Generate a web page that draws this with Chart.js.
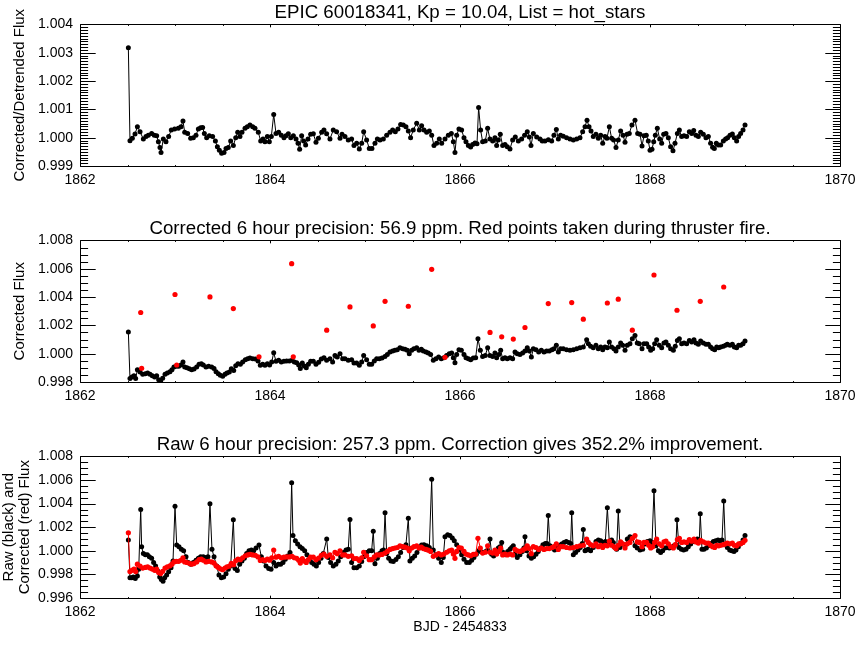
<!DOCTYPE html>
<html>
<head>
<meta charset="utf-8">
<script src="https://cdn.jsdelivr.net/npm/chart.js@4.4.1/dist/chart.umd.min.js"></script>
<style>
  body { margin: 0; background: #fff; }
  #wrap { position: relative; width: 864px; height: 648px; }
  #wrap canvas { position: absolute; left: 0; }
</style>
</head>
<body>
<div id="wrap">
  <canvas id="p1" width="864" height="216" style="top:0"></canvas>
  <canvas id="p2" width="864" height="216" style="top:216px"></canvas>
  <canvas id="p3" width="864" height="216" style="top:432px"></canvas>
</div>
<script>
// --- data: [BJD - 2454833, flux] ---
const detrended = [
  [1862.509,1.00318],[1862.526,0.99989],[1862.551,0.99998],[1862.579,1.00013],[1862.604,1.00039],[1862.632,1.00021],
  [1862.667,0.99995],[1862.695,1.00004],[1862.719,1.00009],[1862.754,1.00015],[1862.782,1.00009],[1862.807,1.00007],
  [1862.825,0.99986],[1862.842,0.99965],[1862.853,0.99948],[1862.877,0.99995],[1862.905,0.99986],[1862.933,1.00004],
  [1862.961,1.00027],[1862.996,1.00031],[1863.035,1.00033],[1863.063,1.00039],[1863.084,1.00059],[1863.102,1.00019],
  [1863.133,1.00015],[1863.165,0.99998],[1863.193,1.00000],[1863.221,1.00009],[1863.246,1.00031],[1863.270,1.00035],
  [1863.291,1.00036],[1863.309,1.00015],[1863.333,1.00000],[1863.361,1.00007],[1863.396,1.00004],[1863.425,0.99988],
  [1863.446,0.99968],[1863.467,0.99956],[1863.491,0.99945],[1863.516,0.99948],[1863.537,0.99962],[1863.561,0.99965],
  [1863.586,0.99988],[1863.614,0.99972],[1863.639,1.00000],[1863.660,1.00019],[1863.684,1.00004],[1863.705,1.00019],
  [1863.737,1.00033],[1863.761,1.00039],[1863.789,1.00045],[1863.818,1.00039],[1863.842,1.00033],[1863.877,1.00019],
  [1863.902,0.99988],[1863.926,0.99995],[1863.947,0.99986],[1863.972,1.00004],[1863.993,0.99986],[1864.014,1.00004],
  [1864.039,1.00082],[1864.063,1.00015],[1864.091,1.00019],[1864.119,1.00009],[1864.147,1.00000],[1864.168,1.00007],
  [1864.193,1.00014],[1864.218,1.00000],[1864.246,1.00007],[1864.274,0.99995],[1864.295,0.99980],[1864.312,0.99959],
  [1864.333,1.00007],[1864.354,0.99988],[1864.375,0.99974],[1864.400,0.99995],[1864.428,1.00012],[1864.456,1.00014],
  [1864.484,0.99984],[1864.509,0.99998],[1864.544,1.00019],[1864.568,1.00027],[1864.596,1.00014],[1864.631,0.99995],
  [1864.666,1.00027],[1864.701,1.00021],[1864.737,0.99998],[1864.758,1.00012],[1864.789,1.00004],[1864.824,0.99992],
  [1864.859,0.99995],[1864.884,0.99972],[1864.912,0.99980],[1864.940,0.99960],[1864.965,0.99980],[1864.986,1.00021],
  [1865.017,0.99992],[1865.045,0.99962],[1865.073,0.99962],[1865.105,0.99980],[1865.130,0.99995],[1865.158,0.99992],
  [1865.193,0.99995],[1865.228,1.00009],[1865.263,1.00019],[1865.291,1.00027],[1865.319,1.00021],[1865.347,1.00031],
  [1865.375,1.00047],[1865.403,1.00045],[1865.431,1.00039],[1865.456,1.00024],[1865.480,1.00000],[1865.508,1.00027],
  [1865.544,1.00051],[1865.572,1.00027],[1865.596,1.00042],[1865.621,1.00027],[1865.649,1.00019],[1865.677,1.00024],
  [1865.702,1.00009],[1865.726,0.99972],[1865.754,0.99980],[1865.782,0.99995],[1865.807,0.99980],[1865.842,0.99995],
  [1865.877,1.00009],[1865.909,1.00015],[1865.930,0.99986],[1865.947,0.99948],[1865.965,1.00009],[1865.989,1.00031],
  [1866.017,1.00027],[1866.042,1.00000],[1866.063,0.99986],[1866.088,0.99972],[1866.112,0.99967],[1866.133,0.99976],
  [1866.158,0.99981],[1866.179,0.99979],[1866.196,1.00107],[1866.217,1.00027],[1866.238,0.99986],[1866.266,0.99988],
  [1866.291,1.00033],[1866.315,0.99995],[1866.344,0.99988],[1866.368,1.00000],[1866.386,0.99972],[1866.403,0.99992],
  [1866.424,1.00012],[1866.449,0.99972],[1866.474,0.99976],[1866.498,0.99968],[1866.526,0.99960],[1866.554,0.99992],
  [1866.582,1.00002],[1866.614,0.99988],[1866.649,0.99995],[1866.680,1.00009],[1866.708,1.00021],[1866.730,1.00002],
  [1866.747,0.99972],[1866.772,1.00015],[1866.807,1.00002],[1866.842,0.99995],[1866.866,0.99988],[1866.894,0.99988],
  [1866.930,0.99993],[1866.965,0.99988],[1866.989,1.00009],[1867.014,1.00029],[1867.035,0.99995],[1867.059,1.00009],
  [1867.087,1.00005],[1867.122,1.00000],[1867.158,0.99995],[1867.193,0.99992],[1867.228,0.99995],[1867.263,1.00000],
  [1867.291,1.00021],[1867.316,1.00039],[1867.337,1.00062],[1867.358,1.00039],[1867.379,1.00024],[1867.403,1.00004],
  [1867.431,1.00012],[1867.456,0.99998],[1867.481,1.00009],[1867.502,0.99980],[1867.526,1.00004],[1867.547,0.99998],
  [1867.572,1.00039],[1867.596,0.99998],[1867.617,0.99992],[1867.642,0.99965],[1867.666,0.99992],[1867.691,1.00024],
  [1867.716,1.00009],[1867.737,0.99984],[1867.758,1.00012],[1867.782,1.00015],[1867.810,1.00045],[1867.842,1.00062],
  [1867.870,1.00015],[1867.895,1.00012],[1867.916,0.99971],[1867.937,1.00007],[1867.961,1.00009],[1867.982,0.99988],
  [1868.000,0.99956],[1868.021,0.99959],[1868.039,0.99986],[1868.056,1.00009],[1868.077,1.00033],[1868.102,0.99995],
  [1868.123,0.99980],[1868.144,1.00012],[1868.168,1.00015],[1868.193,1.00000],[1868.217,0.99968],[1868.242,0.99954],
  [1868.263,0.99980],[1868.288,1.00015],[1868.309,1.00027],[1868.333,1.00004],[1868.358,1.00007],[1868.386,1.00004],
  [1868.414,1.00021],[1868.439,1.00015],[1868.460,1.00025],[1868.484,1.00009],[1868.509,1.00004],[1868.533,1.00019],
  [1868.561,1.00012],[1868.589,1.00000],[1868.614,1.00004],[1868.638,0.99980],[1868.659,0.99966],[1868.677,0.99962],
  [1868.698,0.99980],[1868.719,0.99974],[1868.744,0.99974],[1868.772,0.99988],[1868.796,0.99995],[1868.817,1.00000],
  [1868.842,1.00009],[1868.867,1.00013],[1868.888,1.00000],[1868.912,0.99988],[1868.933,1.00004],[1868.954,1.00015],
  [1868.979,1.00027],[1869.000,1.00045]
];

const corrected = [
  [1862.509,1.00153],[1862.526,0.99824],[1862.547,0.99835],[1862.568,0.99845],[1862.586,0.99824],[1862.604,0.99887],
  [1862.632,0.99871],[1862.660,0.99854],[1862.688,0.99859],[1862.712,0.99864],[1862.737,0.99854],[1862.761,0.99845],
  [1862.786,0.99835],[1862.807,0.99845],[1862.828,0.99816],[1862.849,0.99807],[1862.870,0.99826],[1862.895,0.99854],
  [1862.919,0.99864],[1862.947,0.99873],[1862.968,0.99887],[1862.989,0.99906],[1863.014,0.99911],[1863.039,0.99911],
  [1863.063,0.99920],[1863.084,0.99941],[1863.102,0.99906],[1863.126,0.99901],[1863.151,0.99894],[1863.175,0.99887],
  [1863.200,0.99892],[1863.228,0.99906],[1863.253,0.99925],[1863.277,0.99929],[1863.298,0.99920],[1863.326,0.99906],
  [1863.354,0.99911],[1863.386,0.99906],[1863.411,0.99896],[1863.432,0.99873],[1863.456,0.99859],[1863.477,0.99847],
  [1863.502,0.99840],[1863.526,0.99854],[1863.547,0.99864],[1863.572,0.99871],[1863.593,0.99894],[1863.618,0.99882],
  [1863.639,0.99915],[1863.663,0.99929],[1863.688,0.99925],[1863.712,0.99941],[1863.740,0.99958],[1863.765,0.99965],
  [1863.789,0.99969],[1863.818,0.99965],[1863.846,0.99962],[1863.874,0.99948],[1863.898,0.99918],[1863.923,0.99925],
  [1863.947,0.99918],[1863.972,0.99929],[1863.996,0.99920],[1864.018,0.99941],[1864.039,1.00007],[1864.063,0.99946],
  [1864.091,0.99953],[1864.119,0.99941],[1864.147,0.99946],[1864.175,0.99948],[1864.204,0.99948],[1864.232,0.99953],
  [1864.256,0.99941],[1864.281,0.99936],[1864.302,0.99920],[1864.319,0.99896],[1864.340,0.99934],[1864.361,0.99913],
  [1864.382,0.99901],[1864.404,0.99925],[1864.428,0.99946],[1864.456,0.99946],[1864.484,0.99925],[1864.512,0.99939],
  [1864.540,0.99962],[1864.568,0.99972],[1864.596,0.99953],[1864.631,0.99965],[1864.659,0.99941],[1864.684,0.99988],
  [1864.708,0.99976],[1864.737,1.00000],[1864.765,0.99965],[1864.789,0.99965],[1864.824,0.99953],[1864.859,0.99958],
  [1864.884,0.99934],[1864.912,0.99934],[1864.940,0.99918],[1864.965,0.99941],[1864.986,0.99988],[1865.017,0.99958],
  [1865.045,0.99925],[1865.070,0.99925],[1865.098,0.99948],[1865.123,0.99965],[1865.151,0.99965],[1865.179,0.99969],
  [1865.210,0.99981],[1865.235,0.99995],[1865.263,1.00012],[1865.291,1.00019],[1865.315,1.00024],[1865.340,1.00028],
  [1865.368,1.00042],[1865.396,1.00035],[1865.421,1.00031],[1865.445,1.00024],[1865.466,1.00000],[1865.491,1.00024],
  [1865.515,1.00035],[1865.544,1.00042],[1865.568,1.00024],[1865.593,1.00031],[1865.614,1.00019],[1865.642,1.00012],
  [1865.666,1.00005],[1865.691,0.99995],[1865.719,0.99953],[1865.747,0.99965],[1865.775,0.99976],[1865.803,0.99965],
  [1865.831,0.99972],[1865.859,0.99988],[1865.887,1.00000],[1865.912,1.00005],[1865.930,0.99972],[1865.947,0.99936],
  [1865.965,0.99995],[1865.989,1.00028],[1866.014,1.00024],[1866.042,0.99995],[1866.063,0.99972],[1866.088,0.99965],
  [1866.112,0.99958],[1866.140,0.99969],[1866.165,0.99972],[1866.189,1.00106],[1866.214,1.00024],[1866.238,0.99981],
  [1866.266,0.99988],[1866.291,1.00042],[1866.315,0.99988],[1866.344,0.99981],[1866.368,1.00005],[1866.386,0.99972],
  [1866.410,0.99995],[1866.428,1.00024],[1866.449,0.99965],[1866.474,0.99972],[1866.498,0.99965],[1866.526,0.99972],
  [1866.554,0.99965],[1866.579,1.00012],[1866.603,1.00000],[1866.631,0.99995],[1866.659,1.00005],[1866.684,1.00019],
  [1866.708,1.00042],[1866.730,1.00019],[1866.751,0.99976],[1866.772,1.00035],[1866.800,1.00028],[1866.828,1.00012],
  [1866.856,1.00024],[1866.884,1.00012],[1866.912,1.00019],[1866.940,1.00019],[1866.968,1.00028],[1866.989,1.00035],
  [1867.014,1.00059],[1867.035,1.00012],[1867.059,1.00035],[1867.087,1.00035],[1867.122,1.00028],[1867.158,1.00024],
  [1867.193,1.00028],[1867.228,1.00035],[1867.263,1.00042],[1867.298,1.00047],[1867.333,1.00099],[1867.351,1.00071],
  [1867.375,1.00052],[1867.403,1.00042],[1867.431,1.00059],[1867.456,1.00035],[1867.481,1.00047],[1867.502,1.00028],
  [1867.526,1.00047],[1867.551,1.00042],[1867.572,1.00082],[1867.596,1.00047],[1867.621,1.00035],[1867.642,1.00019],
  [1867.666,1.00047],[1867.691,1.00075],[1867.712,1.00059],[1867.737,1.00024],[1867.761,1.00059],[1867.789,1.00071],
  [1867.814,1.00106],[1867.842,1.00129],[1867.866,1.00075],[1867.888,1.00071],[1867.916,1.00035],[1867.937,1.00071],
  [1867.965,1.00071],[1867.986,1.00047],[1868.007,1.00024],[1868.028,1.00035],[1868.049,1.00071],[1868.070,1.00099],
  [1868.098,1.00059],[1868.123,1.00042],[1868.147,1.00075],[1868.168,1.00082],[1868.193,1.00059],[1868.217,1.00035],
  [1868.246,1.00024],[1868.266,1.00052],[1868.288,1.00094],[1868.309,1.00106],[1868.333,1.00071],[1868.358,1.00075],
  [1868.386,1.00071],[1868.414,1.00094],[1868.439,1.00082],[1868.463,1.00099],[1868.484,1.00075],[1868.509,1.00066],
  [1868.533,1.00089],[1868.561,1.00075],[1868.589,1.00066],[1868.614,1.00066],[1868.638,1.00047],[1868.659,1.00035],
  [1868.681,1.00028],[1868.702,1.00047],[1868.723,1.00042],[1868.744,1.00047],[1868.772,1.00052],[1868.796,1.00059],
  [1868.814,1.00066],[1868.842,1.00059],[1868.867,1.00066],[1868.888,1.00047],[1868.912,1.00042],[1868.933,1.00059],
  [1868.954,1.00059],[1868.979,1.00071],[1869.000,1.00089]
];

// corrected flux of the cadences taken during thruster firings (red points, panel 2)
const thrusterFire = [
  [1862.639,1.00291],[1862.649,0.99897],[1863.000,1.00418],[1863.018,0.99920],[1863.368,1.00401],[1863.614,1.00319],
  [1863.884,0.99978],[1864.228,1.00636],[1864.245,0.99978],[1864.597,1.00166],[1864.842,1.00330],[1865.087,1.00196],
  [1865.211,1.00370],[1865.456,1.00335],[1865.702,1.00596],[1865.842,0.99974],[1866.316,1.00150],[1866.439,1.00119],
  [1866.561,1.00103],[1866.684,1.00185],[1866.929,1.00354],[1867.176,1.00361],[1867.298,1.00244],[1867.551,1.00358],
  [1867.666,1.00385],[1867.814,1.00166],[1868.042,1.00556],[1868.284,1.00307],[1868.529,1.00370],[1868.776,1.00471]
];

const raw = [
  [1862.509,1.00091],[1862.526,0.99771],[1862.544,0.99771],[1862.561,0.99777],[1862.582,0.99766],[1862.604,0.99786],
  [1862.618,0.99843],[1862.639,1.00351],[1862.649,1.00034],[1862.667,0.99977],[1862.688,0.99966],[1862.709,0.99966],
  [1862.730,0.99949],[1862.754,0.99937],[1862.775,0.99900],[1862.796,0.99871],[1862.818,0.99829],[1862.839,0.99777],
  [1862.856,0.99757],[1862.874,0.99743],[1862.891,0.99771],[1862.912,0.99794],[1862.933,0.99823],[1862.958,0.99857],
  [1862.979,0.99914],[1863.000,1.00377],[1863.018,1.00049],[1863.042,1.00034],[1863.067,1.00014],[1863.091,1.00000],
  [1863.116,0.99949],[1863.140,0.99900],[1863.165,0.99886],[1863.193,0.99900],[1863.221,0.99920],[1863.246,0.99937],
  [1863.270,0.99949],[1863.298,0.99949],[1863.326,0.99943],[1863.347,0.99949],[1863.368,1.00400],[1863.389,1.00014],
  [1863.411,0.99949],[1863.439,0.99871],[1863.463,0.99794],[1863.488,0.99771],[1863.512,0.99777],[1863.537,0.99806],
  [1863.561,0.99843],[1863.586,0.99871],[1863.614,1.00263],[1863.632,0.99851],[1863.656,0.99834],[1863.681,0.99886],
  [1863.705,0.99914],[1863.730,0.99937],[1863.754,0.99977],[1863.779,1.00000],[1863.804,1.00006],[1863.828,1.00000],
  [1863.853,1.00023],[1863.884,1.00049],[1863.909,0.99949],[1863.933,0.99914],[1863.958,0.99871],[1863.986,0.99851],
  [1864.011,0.99843],[1864.039,0.99900],[1864.063,0.99871],[1864.088,0.99886],[1864.112,0.99886],[1864.137,0.99900],
  [1864.161,0.99929],[1864.186,0.99957],[1864.211,0.99986],[1864.228,1.00577],[1864.242,1.00129],[1864.267,1.00086],
  [1864.291,1.00057],[1864.316,1.00034],[1864.340,1.00020],[1864.365,1.00000],[1864.389,0.99966],[1864.414,0.99929],
  [1864.439,0.99900],[1864.463,0.99886],[1864.488,0.99871],[1864.512,0.99900],[1864.537,0.99937],[1864.561,0.99977],
  [1864.597,1.00100],[1864.614,0.99943],[1864.638,0.99900],[1864.666,0.99871],[1864.694,0.99886],[1864.719,0.99914],
  [1864.744,0.99949],[1864.772,0.99986],[1864.800,1.00006],[1864.824,1.00014],[1864.842,1.00266],[1864.859,0.99900],
  [1864.884,0.99857],[1864.912,0.99857],[1864.940,0.99871],[1864.965,0.99909],[1864.989,0.99949],[1865.017,0.99986],
  [1865.045,1.00000],[1865.070,1.00000],[1865.087,1.00166],[1865.105,0.99891],[1865.130,0.99937],[1865.154,0.99977],
  [1865.179,1.00000],[1865.196,1.00006],[1865.211,1.00323],[1865.228,0.99977],[1865.249,0.99937],[1865.273,0.99914],
  [1865.298,0.99909],[1865.326,0.99926],[1865.351,0.99949],[1865.375,0.99986],[1865.403,1.00029],[1865.431,1.00051],
  [1865.456,1.00277],[1865.473,0.99914],[1865.498,0.99937],[1865.523,0.99957],[1865.547,0.99986],[1865.572,1.00023],
  [1865.596,1.00049],[1865.621,1.00051],[1865.649,1.00043],[1865.677,1.00029],[1865.702,1.00606],[1865.719,1.00006],
  [1865.747,0.99966],[1865.775,0.99937],[1865.803,0.99900],[1865.824,0.99943],[1865.842,1.00120],[1865.870,1.00137],
  [1865.894,1.00129],[1865.919,1.00109],[1865.940,1.00086],[1865.965,1.00051],[1865.993,1.00006],[1866.017,0.99966],
  [1866.042,0.99929],[1866.070,0.99900],[1866.098,0.99900],[1866.123,0.99920],[1866.147,0.99943],[1866.172,0.99971],
  [1866.196,1.00000],[1866.217,0.99994],[1866.245,0.99986],[1866.270,0.99994],[1866.291,1.00006],[1866.316,1.00100],
  [1866.333,0.99971],[1866.354,0.99957],[1866.379,0.99986],[1866.403,1.00023],[1866.421,1.00034],[1866.439,1.00071],
  [1866.456,0.99986],[1866.477,0.99966],[1866.502,0.99994],[1866.526,1.00014],[1866.544,1.00029],[1866.561,1.00043],
  [1866.579,0.99971],[1866.603,0.99943],[1866.631,0.99966],[1866.656,0.99994],[1866.673,1.00023],[1866.684,1.00120],
  [1866.702,1.00000],[1866.726,0.99957],[1866.751,0.99937],[1866.775,0.99949],[1866.800,0.99971],[1866.824,0.99994],
  [1866.849,1.00023],[1866.873,1.00051],[1866.898,1.00063],[1866.915,1.00063],[1866.929,1.00300],[1866.947,1.00043],
  [1866.972,1.00023],[1866.996,1.00006],[1867.021,1.00023],[1867.045,1.00043],[1867.070,1.00057],[1867.095,1.00071],
  [1867.119,1.00080],[1867.144,1.00071],[1867.165,1.00063],[1867.176,1.00323],[1867.193,0.99966],[1867.217,0.99986],
  [1867.242,1.00006],[1867.266,1.00029],[1867.287,1.00063],[1867.298,1.00180],[1867.316,1.00000],[1867.333,1.00006],
  [1867.351,1.00014],[1867.375,1.00000],[1867.403,1.00029],[1867.431,1.00080],[1867.456,1.00091],[1867.481,1.00086],
  [1867.509,1.00071],[1867.530,1.00080],[1867.551,1.00366],[1867.572,1.00071],[1867.596,1.00091],[1867.614,1.00071],
  [1867.631,1.00029],[1867.649,1.00014],[1867.666,1.00337],[1867.684,1.00029],[1867.712,1.00057],[1867.737,1.00043],
  [1867.761,1.00100],[1867.789,1.00120],[1867.814,1.00109],[1867.842,1.00043],[1867.866,1.00023],[1867.895,1.00006],
  [1867.923,1.00014],[1867.947,1.00057],[1867.972,1.00080],[1868.000,1.00086],[1868.021,1.00071],[1868.042,1.00509],
  [1868.063,1.00043],[1868.088,1.00000],[1868.112,0.99986],[1868.133,1.00000],[1868.158,1.00023],[1868.182,1.00029],
  [1868.203,1.00023],[1868.228,1.00029],[1868.252,1.00043],[1868.273,1.00051],[1868.284,1.00263],[1868.305,1.00029],
  [1868.330,1.00014],[1868.354,1.00006],[1868.379,1.00014],[1868.403,1.00034],[1868.428,1.00057],[1868.453,1.00080],
  [1868.477,1.00091],[1868.498,1.00100],[1868.519,1.00086],[1868.529,1.00314],[1868.547,1.00014],[1868.568,1.00014],
  [1868.593,1.00023],[1868.617,1.00043],[1868.642,1.00063],[1868.667,1.00080],[1868.691,1.00086],[1868.716,1.00091],
  [1868.737,1.00086],[1868.758,1.00091],[1868.776,1.00423],[1868.793,1.00057],[1868.814,1.00029],[1868.839,1.00006],
  [1868.860,1.00000],[1868.884,0.99994],[1868.905,1.00006],[1868.930,1.00034],[1868.954,1.00063],[1868.979,1.00091],
  [1869.000,1.00129]
];

// axis ticks
const xTicks = [1862, 1864, 1866, 1868, 1870];
const yTicks1 = [0.999, 1.000, 1.001, 1.002, 1.003, 1.004];
const yTicks2 = [0.998, 1.000, 1.002, 1.004, 1.006, 1.008];
const yTicks3 = [0.996, 0.998, 1.000, 1.002, 1.004, 1.006, 1.008];

const FONT = '"Liberation Sans", Arial, Helvetica, sans-serif';

const toXY = (arr) => arr.map(([x, y]) => ({ x, y }));

// IDL-style frame: box plus inward ticks on all four sides (length 2% of plot)
const idlFrame = {
    id: 'idlFrame',
    afterDatasetsDraw(chart, args, opts) {
        const { ctx, chartArea: a, scales } = chart;
        const x = scales.x;
        const y = scales.y;
        const L = Math.round(a.left) + 0.5;
        const R = Math.round(a.right) + 0.5;
        const T = Math.round(a.top) + 0.5;
        const B = Math.round(a.bottom) + 0.5;
        ctx.save();
        ctx.strokeStyle = '#000';
        ctx.lineWidth = 1;
        ctx.beginPath();
        ctx.rect(L, T, R - L, B - T);

        const isMajor = (v, list, step) => list.some((t) => Math.abs(t - v) < step * 0.01);

        const xLen = 0.02 * (B - T);
        const nx = Math.round((x.max - x.min) / opts.xMinor);
        for (let k = 0; k <= nx; k++) {
            const v = x.min + k * opts.xMinor;
            const px = Math.round(x.getPixelForValue(v)) + 0.5;
            const len = isMajor(v, opts.xTicks, opts.xMinor) ? xLen : xLen / 2;
            ctx.moveTo(px, B);
            ctx.lineTo(px, B - len);
            ctx.moveTo(px, T);
            ctx.lineTo(px, T + len);
        }

        const yLen = 0.02 * (R - L);
        const ny = Math.round((y.max - y.min) / opts.yMinor);
        for (let k = 0; k <= ny; k++) {
            const v = y.min + k * opts.yMinor;
            const py = Math.round(y.getPixelForValue(v)) + 0.5;
            const len = isMajor(v, opts.yTicks, opts.yMinor) ? yLen : yLen / 2;
            ctx.moveTo(L, py);
            ctx.lineTo(L + len, py);
            ctx.moveTo(R, py);
            ctx.lineTo(R - len, py);
        }
        ctx.stroke();
        ctx.restore();
    },
};

function panel(id, cfg) {
    const xScale = {
        type: 'linear',
        min: 1862,
        max: 1870,
        afterBuildTicks: (s) => { s.ticks = xTicks.map((v) => ({ value: v })); },
        afterFit: (s) => { s.height = 50; },
        grid: { display: false, drawTicks: false },
        border: { display: false },
        ticks: {
            color: '#000',
            padding: 6,
            maxRotation: 0,
            autoSkip: false,
            font: { family: FONT, size: 14 },
            callback: (v) => String(v),
        },
    };
    if (cfg.xTitle) {
        xScale.title = {
            display: true,
            text: cfg.xTitle,
            color: '#000',
            font: { family: FONT, size: 14 },
            padding: { top: 0, bottom: 12 },
        };
    }
    return new Chart(document.getElementById(id), {
        type: 'line',
        data: { datasets: cfg.datasets },
        options: {
            responsive: false,
            animation: false,
            layout: { padding: { left: 0, right: 24, top: 0, bottom: 0 } },
            plugins: {
                legend: { display: false },
                tooltip: { enabled: false },
                title: {
                    display: true,
                    fullSize: false,
                    text: cfg.title,
                    color: '#000',
                    font: { family: FONT, size: 18.7, weight: 'normal', lineHeight: 1.2 },
                    padding: { top: 2, bottom: 0 },
                },
                idlFrame: { xTicks, xMinor: 0.5, yTicks: cfg.yTicks, yMinor: cfg.yMinor },
            },
            scales: {
                x: xScale,
                y: {
                    type: 'linear',
                    min: cfg.yTicks[0],
                    max: cfg.yTicks[cfg.yTicks.length - 1],
                    afterBuildTicks: (s) => { s.ticks = cfg.yTicks.map((v) => ({ value: v })); },
                    afterFit: (s) => { s.width = 80; },
                    grid: { display: false, drawTicks: false },
                    border: { display: false },
                    ticks: {
                        color: '#000',
                        padding: 7,
                        font: { family: FONT, size: 14 },
                        callback: (v) => v.toFixed(3),
                    },
                    title: {
                        display: true,
                        text: cfg.yTitle,
                        color: '#000',
                        font: { family: FONT, size: 15, lineHeight: cfg.yTitleLH || 1.2 },
                        padding: { top: cfg.yTitlePad, bottom: 0 },
                    },
                },
            },
        },
        plugins: [idlFrame],
    });
}

const blackLine = (data) => ({
    data: toXY(data),
    borderColor: '#000',
    borderWidth: 1,
    backgroundColor: '#000',
    pointRadius: 2.5,
    pointBorderWidth: 0,
    pointBackgroundColor: '#000',
    tension: 0,
});

panel('p1', {
    title: 'EPIC 60018341, Kp = 10.04, List = hot_stars',
    yTitle: 'Corrected/Detrended Flux',
    yTitlePad: 11,
    yTicks: yTicks1,
    yMinor: 0.0001,
    datasets: [blackLine(detrended)],
});

panel('p2', {
    title: 'Corrected 6 hour precision: 56.9 ppm. Red points taken during thruster fire.',
    yTitle: 'Corrected Flux',
    yTitlePad: 11,
    yTicks: yTicks2,
    yMinor: 0.0005,
    datasets: [
        {
            data: toXY(thrusterFire),
            showLine: false,
            pointRadius: 2.6,
            pointBorderWidth: 0,
            pointBackgroundColor: '#ff0000',
        },
        blackLine(corrected),
    ],
});

panel('p3', {
    title: 'Raw 6 hour precision: 257.3 ppm. Correction gives 352.2% improvement.',
    yTitle: ['Raw (black) and', 'Corrected (red) Flux'],
    yTitleLH: 1.05,
    yTitlePad: 1,
    yTicks: yTicks3,
    yMinor: 0.0005,
    xTitle: 'BJD - 2454833',
    datasets: [
        {
            data: toXY(corrected),
            borderColor: '#ff0000',
            borderWidth: 1,
            pointRadius: 2.6,
            pointBorderWidth: 0,
            pointBackgroundColor: '#ff0000',
            tension: 0,
        },
        blackLine(raw),
    ],
});
</script>
</body>
</html>
